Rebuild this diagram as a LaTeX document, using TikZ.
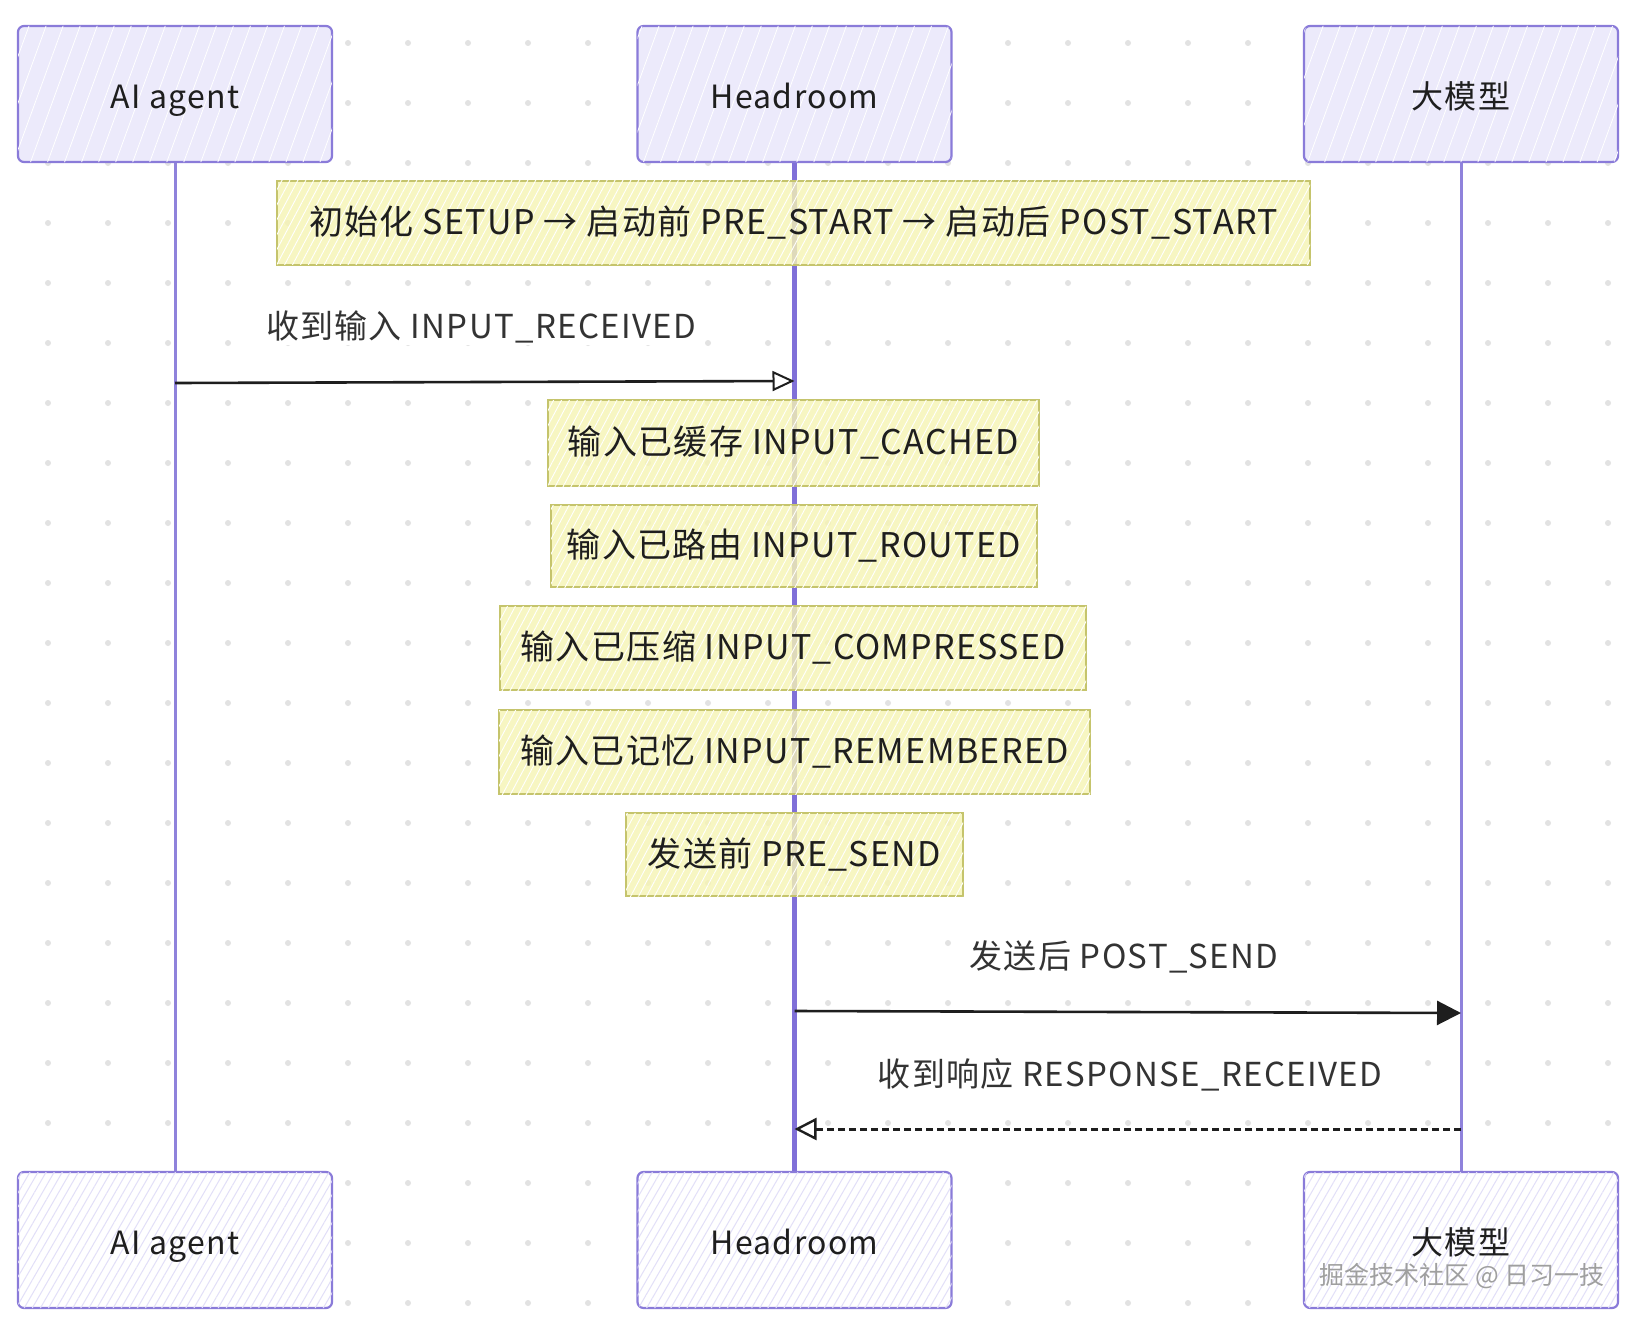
\documentclass[tikz,border=0pt]{standalone}
\usepackage{fontspec}
\setmainfont{Noto Sans CJK SC}
\newfontfamily\widefont[LetterSpace=4]{Noto Sans CJK SC}
\usetikzlibrary{arrows.meta,patterns.meta}
\definecolor{boxfill}{HTML}{ECEAFB}
\definecolor{boxdraw}{HTML}{8A7BD9}
\definecolor{hatchlav}{HTML}{E2DFF8}
\definecolor{lifeline}{HTML}{8F82DB}
\definecolor{lifemain}{HTML}{8070D8}
\definecolor{notefill}{HTML}{F6F4B3}
\definecolor{notedraw}{HTML}{C5C46C}
\definecolor{dotgray}{HTML}{E2E2E2}
\definecolor{ink}{HTML}{1E1E1E}
\definecolor{labelink}{HTML}{333333}
\begin{document}
\begin{tikzpicture}[x=1pt,y=-1pt,
  participant/.style={draw=boxdraw, line width=2.2pt, rounded corners=6pt,
    minimum width=314pt, minimum height=136pt, inner sep=0pt,
    text height=30pt, text depth=2pt,
    font=\widefont\fontsize{32}{38}\selectfont, text=ink},
  ptop/.style={participant, fill=boxfill,
    postaction={pattern={Lines[angle=70,distance=16pt,line width=0.8pt]}, pattern color=white}},
  pbot/.style={participant, fill=white,
    postaction={pattern={Lines[angle=60,distance=7pt,line width=1pt]}, pattern color=hatchlav}},
  notebox/.style={draw=notedraw, line width=2pt, fill=notefill, fill opacity=0.8, text opacity=1,
    postaction={pattern={Lines[angle=62,distance=7pt,line width=0.9pt]}, pattern color=white},
    inner sep=0pt, minimum height=84pt, font=\widefont\fontsize{34}{40}\selectfont, text=ink},
  msglabel/.style={fill=white, inner sep=2pt, font=\widefont\fontsize{33}{39}\selectfont, text=labelink},
  lifestyle/.style={draw=lifeline, line width=3pt},
  msg/.style={draw=ink, line width=2.6pt}
]
% background and bounding box
\fill[white] (0,0) rectangle (1638,1322);
\useasboundingbox (0,0) rectangle (1638,1322);
% dot grid
\foreach \gx in {48,108,...,1608}{
  \foreach \gy in {43,103,...,1303}{
    \fill[dotgray] (\gx,\gy) circle (3pt);
  }
}
% participants
\node[ptop] (pa) at (175,94) {AI agent};
\node[ptop] (ph) at (794.5,94) {Headroom};
\node[ptop] (pl) at (1461,94) {大模型};
\node[pbot] (ba) at (175,1240) {AI agent};
\node[pbot] (bh) at (794.5,1240) {Headroom};
\node[pbot] (bl) at (1461,1240) {大模型};
% lifelines
\draw[lifestyle] (pa.south) -- (ba.north);
\draw[lifestyle, draw=lifemain, line width=5pt] (ph.south) -- (bh.north);
\draw[lifestyle] (pl.south) -- (bl.north);
% notes
\node[notebox, minimum width=1033pt] (n0) at (793.5,222.5) {初始化 SETUP → 启动前 PRE\_START → 启动后 POST\_START};
\node[notebox, minimum width=491pt, minimum height=86pt] (n1) at (793.5,443) {输入已缓存 INPUT\_CACHED};
\node[notebox, minimum width=486pt, minimum height=82pt] (n2) at (794,546) {输入已路由 INPUT\_ROUTED};
\node[notebox, minimum width=586pt] (n3) at (793,648) {输入已压缩 INPUT\_COMPRESSED};
\node[notebox, minimum width=591pt] (n4) at (794.5,752) {输入已记忆 INPUT\_REMEMBERED};
\node[notebox, minimum width=337pt, minimum height=83pt] (n5) at (794.5,854.5) {发送前 PRE\_SEND};
% message anchor points on lifelines
\coordinate (m1s) at (pa.south |- 0,383);
\coordinate (m1e) at (ph.south |- 0,381);
\coordinate (m2s) at (ph.south |- 0,1011);
\coordinate (m2e) at (pl.south |- 0,1013);
\coordinate (m3s) at (pl.south |- 0,1129);
\coordinate (m3e) at (ph.south |- 0,1129);
% messages
\node[msglabel] (l1) at (481,327) {收到输入 INPUT\_RECEIVED};
\draw[msg, -{Triangle[open,length=22pt,width=20pt,line width=2pt]}] (m1s) -- (m1e);
\node[msglabel] (l2) at (1124,957) {发送后 POST\_SEND};
\draw[msg, -{Triangle[length=24pt,width=24pt]}] (m2s) -- (m2e);
\node[msglabel] (l3) at (1130,1075) {收到响应 RESPONSE\_RECEIVED};
\draw[msg, line width=3pt, dashed, dash pattern=on 7pt off 4pt, -{Triangle[open,length=22pt,width=22pt,line width=2.4pt]}] (m3s) -- (m3e);
% watermark
\node[font=\fontsize{25}{29}\selectfont, text=gray!75] (wm) at (1462,1276) {掘金技术社区 @ 日习一技};
\end{tikzpicture}
\end{document}
